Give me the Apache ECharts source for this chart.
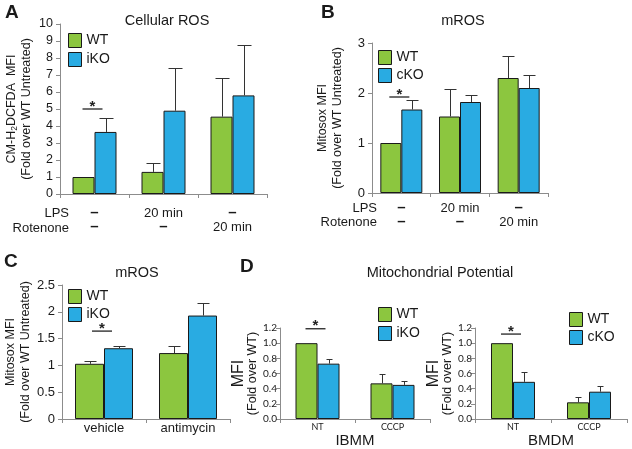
<!DOCTYPE html>
<html>
<head>
<meta charset="utf-8">
<script src="https://cdn.jsdelivr.net/npm/echarts@6/dist/echarts.min.js"></script>
<style>
html, body { margin: 0; padding: 0; background: #fff; }
#chart { width: 632px; height: 449px; }
</style>
</head>
<body>
<div id="chart"></div>
<script>
// A / B : treatment rows under the x axis
var lpsRow = ['–', '20 min', '–'];
var rotRow = ['–', '–', '20 min'];

// A - Cellular ROS (WT vs iKO)
var rosWT = [1.0, 1.3, 4.55];
var rosWTtop = [null, 1.8, 6.85];
var rosKO = [3.65, 4.9, 5.8];
var rosKOtop = [4.5, 7.4, 8.75];
var rosSig = [[0, 5.0]];

// B - mROS (WT vs cKO)
var mrosWT = [1.0, 1.53, 2.3];
var mrosWTtop = [null, 2.08, 2.75];
var mrosKO = [1.67, 1.82, 2.1];
var mrosKOtop = [1.86, 1.97, 2.36];
var mrosSig = [[0, 1.92]];

// C - mROS vehicle / antimycin (WT vs iKO)
var antiCats = ['vehicle', 'antimycin'];
var antiWT = [1.03, 1.23];
var antiWTtop = [1.08, 1.36];
var antiKO = [1.32, 1.93];
var antiKOtop = [1.37, 2.17];
var antiSig = [[0, 1.64]];

// D - Mitochondrial potential
var potCats = ['NT', 'CCCP'];
var ibmmWT = [1.0, 0.47];
var ibmmWTtop = [null, 0.6];
var ibmmKO = [0.73, 0.45];
var ibmmKOtop = [0.79, 0.5];
var ibmmSig = [[0, 1.19]];
var bmdmWT = [1.0, 0.22];
var bmdmWTtop = [null, 0.29];
var bmdmKO = [0.49, 0.36];
var bmdmKOtop = [0.62, 0.43];
var bmdmSig = [[0, 1.12]];

var GREEN = '#8cc63f';
var BLUE = '#29abe2';
var INK = '#1a1a1a';
var AXIS = '#8c8c8c';
var FONT = 'Liberation Sans';

var chart = echarts.init(document.getElementById('chart'), null, { renderer: 'canvas' });

function bars(idx, name, values, color, bw) {
  return {
    type: 'bar', name: name, xAxisIndex: idx, yAxisIndex: idx,
    data: values, barWidth: bw, barGap: '0%', silent: true, z: 2,
    itemStyle: { color: color, borderColor: INK, borderWidth: 1 }
  };
}

function errors(idx, values, tops, side, bw, cap) {
  var data = [];
  values.forEach(function (v, i) {
    if (tops[i] != null) data.push([i, v, tops[i]]);
  });
  return {
    type: 'custom', xAxisIndex: idx, yAxisIndex: idx, silent: true, z: 3,
    data: data,
    renderItem: function (params, api) {
      var base = api.coord([api.value(0), api.value(1)]);
      var hi = api.coord([api.value(0), api.value(2)]);
      var x = Math.round(base[0] + side * bw / 2) + 0.5;
      var y = Math.round(hi[1]) + 0.5;
      return {
        type: 'group',
        children: [
          { type: 'line', shape: { x1: x, y1: base[1], x2: x, y2: y }, style: { stroke: '#333', lineWidth: 1 } },
          { type: 'line', shape: { x1: x - cap / 2, y1: y, x2: x + cap / 2, y2: y }, style: { stroke: '#333', lineWidth: 1 } }
        ]
      };
    }
  };
}

function signif(idx, marks) {
  return {
    type: 'custom', xAxisIndex: idx, yAxisIndex: idx, silent: true, z: 4,
    data: marks,
    renderItem: function (params, api) {
      var p = api.coord([api.value(0), api.value(1)]);
      var cx = p[0] - 2;
      return {
        type: 'group',
        children: [
          { type: 'line', shape: { x1: cx - 10, y1: p[1], x2: cx + 10, y2: p[1] }, style: { stroke: '#222', lineWidth: 1.3 } },
          { type: 'text', x: cx, y: p[1] + 5, style: { text: '*', fill: '#222', font: 'bold 15px ' + FONT, textAlign: 'center', textVerticalAlign: 'bottom' } }
        ]
      };
    }
  };
}

function treatLabel(v) {
  return v.split('\n').map(function (s) {
    return s === '–' ? '{d|–}' : '{t|' + s + '}';
  }).join('\n');
}

function catAxis(idx, data, extra) {
  var ax = {
    type: 'category', gridIndex: idx, data: data,
    axisLine: { lineStyle: { color: AXIS } },
    axisTick: { show: true, length: 4, lineStyle: { color: AXIS } },
    axisLabel: { interval: 0, color: INK, fontFamily: FONT, fontSize: 13 }
  };
  return Object.assign(ax, extra || {});
}

function valAxis(idx, max, step, fontSize, margin, name, gap, nameStyle, fmt, fam) {
  return {
    type: 'value', gridIndex: idx, min: 0, max: max, interval: step,
    splitLine: { show: false },
    axisLine: { show: true, lineStyle: { color: AXIS } },
    axisTick: { show: true, length: 4, lineStyle: { color: AXIS } },
    axisLabel: { color: INK, fontSize: fontSize, margin: margin, fontFamily: fam || FONT, formatter: fmt },
    name: name, nameLocation: 'middle', nameRotate: 90, nameGap: gap,
    nameTextStyle: nameStyle
  };
}

var treatRich = {
  t: { fontSize: 13, lineHeight: 14, color: INK, fontFamily: FONT },
  d: { fontSize: 15, lineHeight: 14, fontWeight: 'bold', color: INK, fontFamily: FONT }
};
var abCats = lpsRow.map(function (v, i) { return v + '\n' + rotRow[i]; });
var oneDec = function (v) { return v.toFixed(1); };
var foldStyle = { color: INK, fontFamily: FONT, fontSize: 12.5, lineHeight: 15 };
var dName = '{a|MFI}\n{b|(Fold over WT)}';
var dNameStyle = {
  rich: {
    a: { fontSize: 16, lineHeight: 15, color: INK, fontFamily: FONT },
    b: { fontSize: 12.5, lineHeight: 14, color: INK, fontFamily: FONT }
  }
};

function legend(left, top, koName, gap) {
  return {
    left: left, top: top, orient: 'vertical', padding: 0,
    itemWidth: 13, itemHeight: 14, itemGap: gap, icon: 'rect',
    selectedMode: false, data: ['WT', koName],
    itemStyle: { borderColor: INK, borderWidth: 1 },
    textStyle: { color: INK, fontSize: 14, fontFamily: FONT }
  };
}

function txt(x, y, s, size, align, bold) {
  return {
    type: 'text', x: x, y: y, silent: true,
    style: {
      text: s, fill: INK, font: (bold ? 'bold ' : '') + size + 'px ' + FONT,
      textAlign: align || 'center', textVerticalAlign: 'middle'
    }
  };
}

chart.setOption({
  animation: false,
  textStyle: { fontFamily: FONT },
  grid: [
    { left: 60, top: 24, width: 207, height: 170 },
    { left: 372, top: 43, width: 176, height: 150 },
    { left: 62, top: 285, width: 168, height: 134 },
    { left: 280, top: 328, width: 150, height: 91 },
    { left: 475, top: 328, width: 152, height: 91 }
  ],
  xAxis: [
    catAxis(0, abCats, { axisLabel: { interval: 0, margin: 12, formatter: treatLabel, rich: treatRich } }),
    catAxis(1, abCats, { axisLabel: { interval: 0, margin: 8, formatter: treatLabel, rich: treatRich } }),
    catAxis(2, antiCats, { axisLabel: { interval: 0, margin: 3, color: INK, fontSize: 13, fontFamily: FONT } }),
    catAxis(3, potCats, {
      axisLabel: { interval: 0, margin: 4, color: INK, fontSize: 9, fontFamily: 'Lato' },
      name: 'IBMM', nameLocation: 'middle', nameGap: 13, nameTextStyle: { color: INK, fontSize: 15, fontFamily: FONT }
    }),
    catAxis(4, potCats, {
      axisLabel: { interval: 0, margin: 4, color: INK, fontSize: 9, fontFamily: 'Lato' },
      name: 'BMDM', nameLocation: 'middle', nameGap: 13, nameTextStyle: { color: INK, fontSize: 15, fontFamily: FONT }
    })
  ],
  yAxis: [
    valAxis(0, 10, 1, 12.5, 7, 'CM-H{s|2}DCFDA  MFI\n(Fold over WT Untreated)', 26,
      Object.assign({ rich: { s: { fontSize: 8.5, verticalAlign: 'bottom', color: INK, fontFamily: FONT } } }, foldStyle)),
    valAxis(1, 3, 1, 13, 7, 'Mitosox MFI\n(Fold over WT Untreated)', 27, foldStyle),
    valAxis(2, 2.5, 0.5, 13, 7, 'Mitosox MFI\n(Fold over WT Untreated)', 22, foldStyle),
    valAxis(3, 1.2, 0.2, 10, 3, dName, 6, dNameStyle, oneDec, 'Lato'),
    valAxis(4, 1.2, 0.2, 10, 3, dName, 6, dNameStyle, oneDec, 'Lato')
  ],
  legend: [
    legend(68, 33, 'iKO', 4),
    legend(378, 50, 'cKO', 3),
    legend(68, 289, 'iKO', 3),
    legend(378, 307, 'iKO', 4),
    legend(569, 312, 'cKO', 3)
  ],
  series: [
    bars(0, 'WT', rosWT, GREEN, 22), bars(0, 'iKO', rosKO, BLUE, 22),
    errors(0, rosWT, rosWTtop, -1, 22, 14), errors(0, rosKO, rosKOtop, 1, 22, 14), signif(0, rosSig),

    bars(1, 'WT', mrosWT, GREEN, 21), bars(1, 'cKO', mrosKO, BLUE, 21),
    errors(1, mrosWT, mrosWTtop, -1, 21, 12), errors(1, mrosKO, mrosKOtop, 1, 21, 12), signif(1, mrosSig),

    bars(2, 'WT', antiWT, GREEN, 29), bars(2, 'iKO', antiKO, BLUE, 29),
    errors(2, antiWT, antiWTtop, -1, 29, 12), errors(2, antiKO, antiKOtop, 1, 29, 12), signif(2, antiSig),

    bars(3, 'WT', ibmmWT, GREEN, 22), bars(3, 'iKO', ibmmKO, BLUE, 22),
    errors(3, ibmmWT, ibmmWTtop, -1, 22, 6), errors(3, ibmmKO, ibmmKOtop, 1, 22, 6), signif(3, ibmmSig),

    bars(4, 'WT', bmdmWT, GREEN, 22), bars(4, 'cKO', bmdmKO, BLUE, 22),
    errors(4, bmdmWT, bmdmWTtop, -1, 22, 6), errors(4, bmdmKO, bmdmKOtop, 1, 22, 6), signif(4, bmdmSig)
  ],
  graphic: [
    txt(5, 13, 'A', 19, 'left', true),
    txt(321, 13, 'B', 19, 'left', true),
    txt(4, 262, 'C', 19, 'left', true),
    txt(240, 267, 'D', 19, 'left', true),
    txt(167, 21, 'Cellular ROS', 14.5),
    txt(463, 21, 'mROS', 14.5),
    txt(137, 273, 'mROS', 14.5),
    txt(440, 273, 'Mitochondrial Potential', 14.5),
    txt(69, 213, 'LPS', 13, 'right'),
    txt(69, 228, 'Rotenone', 13, 'right'),
    txt(377, 208, 'LPS', 13, 'right'),
    txt(377, 222, 'Rotenone', 13, 'right')
  ]
});
</script>
</body>
</html>
